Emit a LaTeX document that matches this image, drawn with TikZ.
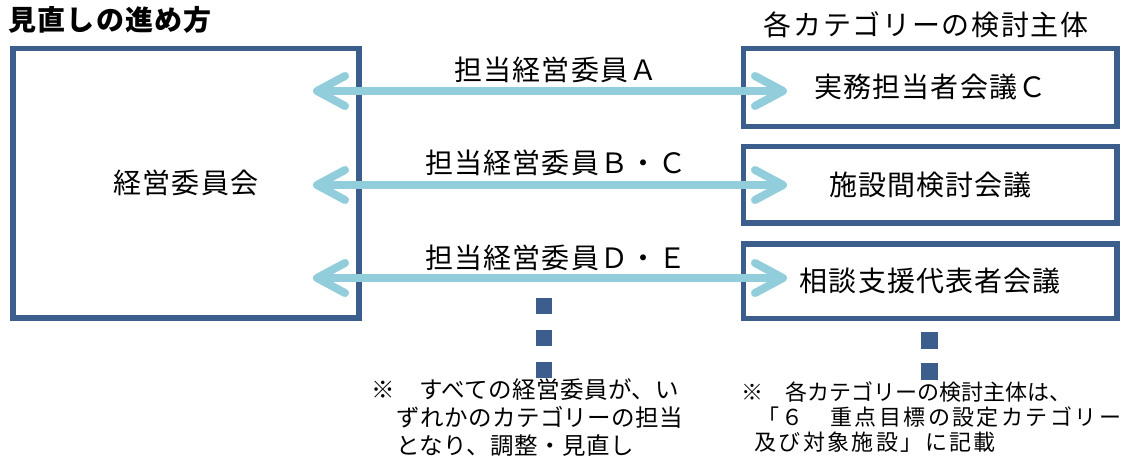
\documentclass[tikz,border=0pt]{standalone}
\usepackage{fontspec}
\setmainfont{Noto Sans CJK JP}
\usetikzlibrary{arrows.meta}
\definecolor{boxblue}{HTML}{3B5E8C}
\definecolor{arrblue}{HTML}{92CDDC}
\newcommand{\bigtxt}{\fontsize{28}{30}\selectfont\addfontfeature{LetterSpace=4}}
\begin{document}
\begin{tikzpicture}[x=1pt,y=-1pt,
  box/.style={draw=boxblue, line width=5.5pt, inner sep=0pt, font=\bigtxt},
  link/.style={draw=arrblue, line width=8pt, line cap=round,
    {Straight Barb[length=28pt,width=30pt,round]}-{Straight Barb[length=28pt,width=30pt,round]}},
  lab/.style={inner sep=0pt, font=\bigtxt},
  sq/.style={fill=boxblue, inner sep=0pt, minimum size=16pt},
  note/.style={inner sep=0pt, anchor=base west, font=\fontsize{23.5}{28}\selectfont\addfontfeature{LetterSpace=2}},
  noteR/.style={inner sep=0pt, anchor=base west, font=\fontsize{22}{25}\selectfont},
  noteRw/.style={noteR, font=\fontsize{22}{25}\selectfont\addfontfeature{LetterSpace=11}}]
\useasboundingbox (0,0) rectangle (1121,457);
\node[inner sep=0pt, anchor=base west, font=\bigtxt\bfseries] (title) at (8.5,30.6) {見直しの進め方};
\node[inner sep=0pt, anchor=base west, font=\fontsize{28}{30}\selectfont\addfontfeature{LetterSpace=6}] (head) at (763.5,35.6) {各カテゴリーの検討主体};
\node[box, minimum width=346pt, minimum height=269.5pt] (mgmt) at (186,183.25) {経営委員会};
\node[box, minimum width=373.3pt, minimum height=77.8pt] (c1) at (930.35,87.4) {実務担当者会議Ｃ};
\node[box, minimum width=373.3pt, minimum height=76.7pt] (c2) at (930.35,184.65) {施設間検討会議};
\node[box, minimum width=373.3pt, minimum height=74.5pt] (c3) at (930.35,281.25) {相談支援代表者会議};
\coordinate (a1l) at (313,91); \coordinate (a1r) at (787,91);
\coordinate (a2l) at (313,185); \coordinate (a2r) at (787,185);
\coordinate (a3l) at (313,278); \coordinate (a3r) at (787,278);
\draw[link] (a1l) -- (a1r);
\draw[link] (a2l) -- (a2r);
\draw[link] (a3l) -- (a3r);
\node[lab] (l1) at (556,70) {担当経営委員Ａ};
\node[lab] (l2) at (556,163) {担当経営委員Ｂ・Ｃ};
\node[lab] (l3) at (556,258) {担当経営委員Ｄ・Ｅ};
\node[sq] (s1) at (544,306) {};
\node[sq] (s2) at (544,338) {};
\node[sq] (s3) at (544,370) {};
\node[sq, minimum size=17pt] (s4) at (929,340) {};
\node[sq, minimum size=17pt] (s5) at (929,371) {};
\node[note] (n1) at (371,398.7) {※　すべての経営委員が、い};
\node[note] (n2) at (396,426.7) {ずれかのカテゴリーの担当};
\node[note] (n3) at (396,454.7) {となり、調整・見直し};
\node[noteR] (m1) at (741,400.5) {※　各カテゴリーの検討主体は、};
\node[noteRw] (m2) at (757,425.5) {「６　重点目標の設定カテゴリー};
\node[noteRw] (m3) at (754,450.5) {及び対象施設」に記載};
\end{tikzpicture}
\end{document}
